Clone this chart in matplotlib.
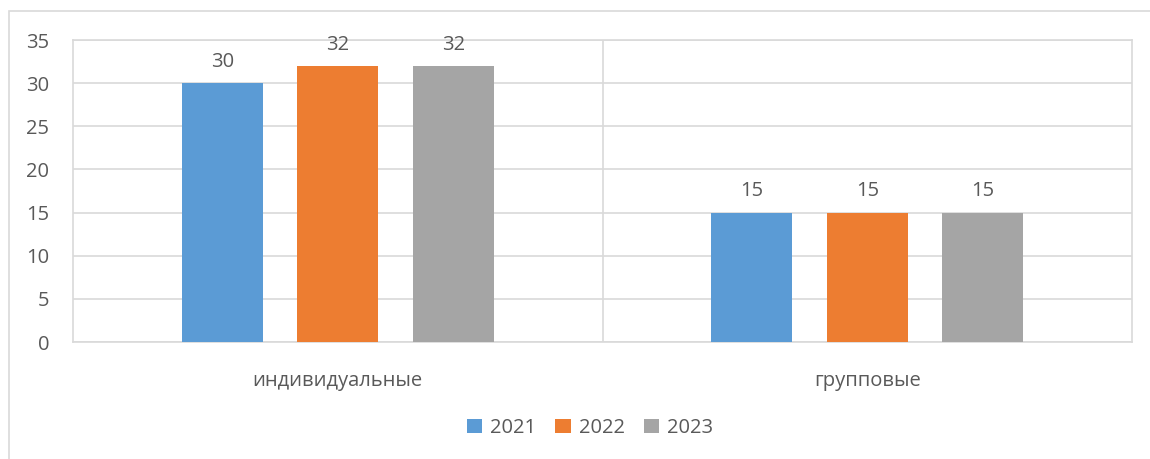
import matplotlib
matplotlib.use("Agg")
import matplotlib.pyplot as plt
import numpy as np
from matplotlib.patches import Rectangle

categories = ["индивидуальные", "групповые"]
years = ["2021", "2022", "2023"]
values_2021 = [30, 15]
values_2022 = [32, 15]
values_2023 = [32, 15]
colors = ["#5B9BD5", "#ED7D31", "#A5A5A5"]
yticks = [0, 5, 10, 15, 20, 25, 30, 35]

plt.rcParams['font.family'] = ['Open Sans', 'DejaVu Sans']
txt = "#595959"
grid = "#D9D9D9"
fs = 14.5

fig = plt.figure(figsize=(11.5, 4.59), dpi=100)
W, H = 1150, 459
# outer chart border
fig.add_artist(Rectangle((9 / W, -0.1), 1.5, (H - 11) / H + 0.1, transform=fig.transFigure,
                         fill=False, edgecolor=grid, linewidth=1.2))
ax = fig.add_axes([73 / W, 1 - 342 / H, (1132 - 73) / W, (342 - 40) / H])

series = [values_2021, values_2022, values_2023]
x = np.arange(len(categories))
offs = [-0.218, 0.0, 0.218]
bw = 0.153
for s, vals, off, c in zip(years, series, offs, colors):
    bars = ax.bar(x + off, vals, bw, color=c, label=s, zorder=3)
    for b, v in zip(bars, vals):
        ax.annotate(str(v), (b.get_x() + b.get_width() / 2, v), xytext=(0, 8),
                    textcoords="offset points", ha="center", va="bottom",
                    fontsize=fs, color=txt)

ax.set_xlim(-0.5, 1.5)
ax.set_ylim(0, 35)
ax.set_yticks(yticks)
ax.yaxis.grid(True, color=grid, linewidth=1.2, zorder=0)
ax.axvline(0.5, color=grid, linewidth=1.2, zorder=0)
ax.set_xticks(x)
ax.set_xticklabels(categories)
ax.tick_params(axis="both", length=0, labelsize=fs, labelcolor=txt)
ax.tick_params(axis="y", pad=17)
ax.tick_params(axis="x", pad=21)
for sp in ax.spines.values():
    sp.set_color(grid)
    sp.set_linewidth(1.2)

fig.legend(loc="center", bbox_to_anchor=(590 / W, 1 - 428 / H), ncol=3, frameon=False,
           fontsize=fs, labelcolor=txt, handlelength=0.75, handleheight=0.75,
           handletextpad=0.4, columnspacing=0.95)

fig.savefig("out.png", dpi=100)
